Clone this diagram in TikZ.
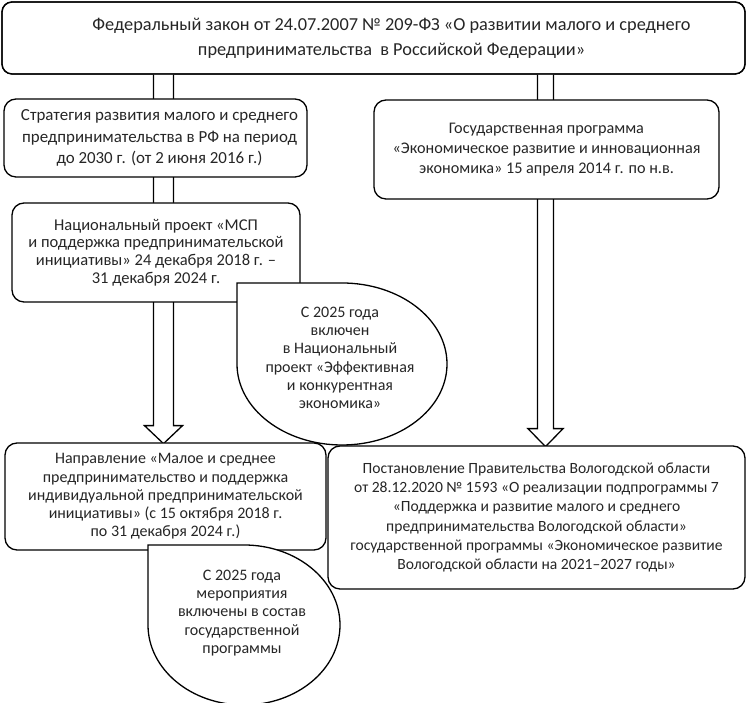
\documentclass[tikz,border=0pt]{standalone}
\usepackage{fontspec}
\setmainfont{Carlito}
\usetikzlibrary{calc}
\begin{document}
\begin{tikzpicture}[x=1pt,y=1pt,
  box/.style={draw=black,line width=1.3pt,fill=white,rounded corners=12pt,inner sep=0pt,align=center,font=\fontsize{16.2}{21}\selectfont,text=black!85},
  blockarrow/.style={draw=black,line width=1.3pt,fill=white},
  callout/.style={draw=black,line width=1.3pt,fill=white},
  ctext/.style={align=center,inner sep=0pt,font=\fontsize{16}{18.3}\selectfont,text=black!85}]
\useasboundingbox (0,0) rectangle (747,703);
% top box
\node[box,rounded corners=10pt,minimum width=743,minimum height=72] (top) at (373.5,665) {};
\coordinate (lax) at (163.5,0);
\coordinate (rax) at (545.5,0);
% block arrows
\draw[blockarrow] ($(top.south -| lax)+(-10,0)$) -- ++(0,-351) -- ++(-9,0) -- ++(19,-18) -- ++(19,18) -- ++(-9,0) -- ++(0,351);
\draw[blockarrow] ($(top.south -| rax)+(-8,0)$) -- ++(0,-354) -- ++(-9.5,0) -- ++(17.5,-18) -- ++(17.5,18) -- ++(-9.5,0) -- ++(0,354);
\node[box,rounded corners=10pt,minimum width=743,minimum height=72,fill=none,font=\fontsize{18.3}{25}\selectfont] at (top) {\hspace*{36pt}\raisebox{3pt}{\parbox{700pt}{\centering Федеральный закон от 24.07.2007 № 209-ФЗ «О развитии малого и среднего\\предпринимательства\ \ в Российской Федерации»}}};
\node[box,minimum width=301,minimum height=78,font=\fontsize{16.9}{21.5}\selectfont] (b1) at (155.5,565) {\hspace*{8pt}\parbox{295pt}{\centering Стратегия развития малого и среднего\\предпринимательства в РФ на период\\до 2030 г. (от 2 июня 2016 г.)}};
\node[box,minimum width=288,minimum height=99,font=\fontsize{16.5}{17.8}\selectfont] (b2) at (156,450.5) {Национальный проект «МСП\\и поддержка предпринимательской\\инициативы» 24 декабря 2018 г. –\\31 декабря 2024 г.};
\node[box,minimum width=345,minimum height=99,font=\fontsize{16.2}{20}\selectfont] (gp) at (546.5,553.5) {Государственная программа\\«Экономическое развитие и инновационная\\экономика» 15 апреля 2014 г. по н.в.};
\node[box,minimum width=321,minimum height=107,font=\fontsize{16}{18.3}\selectfont] (b3) at (165.5,206.5) {Направление «Малое и среднее\\предпринимательство и поддержка\\индивидуальной предпринимательской\\инициативы» (с 15 октября 2018 г.\\по 31 декабря 2024 г.)};
\node[box,minimum width=417,minimum height=143,font=\fontsize{15.6}{19.3}\selectfont] (b4) at (536.5,185.5) {Постановление Правительства Вологодской области\\от 28.12.2020 № 1593 «О реализации подпрограммы 7\\«Поддержка и развитие малого и среднего\\предпринимательства Вологодской области»\\государственной программы «Экономическое развитие\\Вологодской области на 2021–2027 годы»};
% callouts
\draw[callout] (237,420) -- (342,420) arc[start angle=90,end angle=-180,x radius=105,y radius=81] -- cycle;
\node[ctext] (c1) at (340,345) {С 2025 года\\включен\\в Национальный\\проект «Эффективная\\и конкурентная\\экономика»};
\draw[callout] (148,158) -- (244,158) arc[start angle=90,end angle=-180,x radius=96,y radius=80] -- cycle;
\node[ctext] (c2) at (242,90) {С 2025 года\\мероприятия\\включены в состав\\государственной\\программы};
\end{tikzpicture}
\end{document}
